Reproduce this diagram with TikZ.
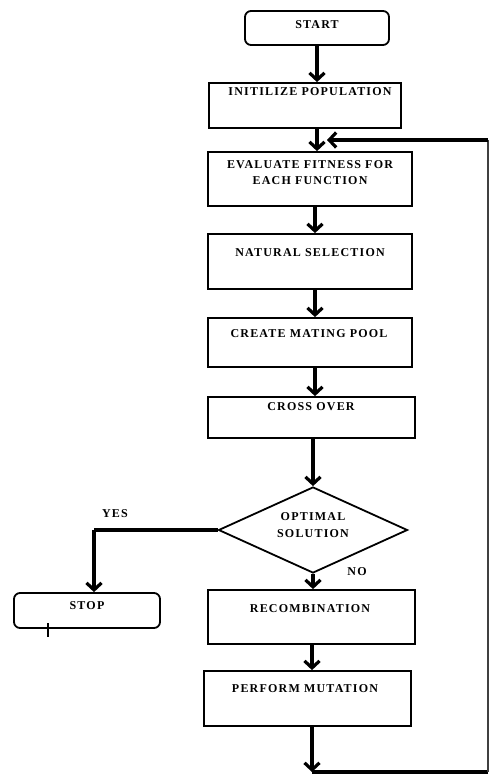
\documentclass[tikz,border=0pt]{standalone}
\usepackage{fontspec}
\setmainfont{Liberation Serif}
\usetikzlibrary{shapes.geometric,arrows.meta}
\begin{document}
\begin{tikzpicture}[x=1pt,y=-1pt,
  box/.style={draw, line width=1.8pt, rectangle, inner sep=0pt},
  rbox/.style={box, rounded corners=6pt},
  txt/.style={font=\fontsize{12}{14}\selectfont\bfseries\addfontfeatures{LetterSpace=10}, inner sep=0pt, anchor=center},
  arr/.style={line width=3.2pt, -{Straight Barb[length=7pt,width=15pt]}},
  thickline/.style={line width=3.2pt},
  thinline/.style={line width=1.2pt, black!75}]
\useasboundingbox (0,0) rectangle (489,778);
\fill[white] (0,0) rectangle (489,778);
% boxes
\node[rbox, minimum width=144pt, minimum height=34pt] (start) at (317,28) {};
\node[box, minimum width=192pt, minimum height=45pt] (init) at (305,105.5) {};
\node[box, minimum width=204pt, minimum height=54pt] (eval) at (310,179) {};
\node[box, minimum width=204pt, minimum height=55pt] (nat) at (310,261.5) {};
\node[box, minimum width=204pt, minimum height=49pt] (create) at (310,342.5) {};
\node[box, minimum width=207pt, minimum height=41pt] (cross) at (311.5,417.5) {};
\node[draw, diamond, line width=1.8pt, inner sep=0pt, minimum width=189pt, minimum height=86pt] (dec) at (313,530) {};
\node[rbox, minimum width=146pt, minimum height=35pt] (stop) at (87,610.5) {};
\node[box, minimum width=207pt, minimum height=54pt] (recomb) at (311.5,617) {};
\node[box, minimum width=207pt, minimum height=55pt] (mut) at (307.5,698.5) {};
% texts
\node[txt] (tstart) at (317,25) {START};
\node[txt] (tinit) at (310,92) {INITILIZE POPULATION};
\node[txt] (teval1) at (310,165) {EVALUATE FITNESS FOR};
\node[txt] (teval2) at (310,181) {EACH FUNCTION};
\node[txt] (tnat) at (310,253) {NATURAL SELECTION};
\node[txt] (tcreate) at (309,334) {CREATE MATING POOL};
\node[txt] (tcross) at (311,407) {CROSS OVER};
\node[txt] (tdec1) at (313,517) {OPTIMAL};
\node[txt] (tdec2) at (313,534) {SOLUTION};
\node[txt] (tyes) at (115,514) {YES};
\node[txt] (tno) at (357,572) {NO};
\node[txt] (tstop) at (87,606) {STOP};
\node[txt] (trecomb) at (310,609) {RECOMBINATION};
\node[txt] (tmut) at (305,689) {PERFORM MUTATION};
% coordinates
\coordinate (c1) at (317,0);
\coordinate (c2) at (315,0);
\coordinate (c3) at (313,0);
\coordinate (c4) at (312,0);
\coordinate (yescorner) at (94,530);
\coordinate (bl) at (312,772);
\coordinate (br) at (488,772);
\coordinate (tr) at (488,140);
\coordinate (loopend) at (327,140);
\coordinate (tick1) at (48,623);
\coordinate (tick2) at (48,637);
% connectors
\draw[arr] (c1 |- start.south) -- (c1 |- init.north);
\draw[arr] (c1 |- init.south) -- (c1 |- eval.north);
\draw[arr] (c2 |- eval.south) -- (c2 |- nat.north);
\draw[arr] (c2 |- nat.south) -- (c2 |- create.north);
\draw[arr] (c2 |- create.south) -- (c2 |- cross.north);
\draw[arr] (c3 |- cross.south) -- (dec.north);
\draw[arr] (dec.south) -- (dec.south |- recomb.north);
\draw[arr] (c4 |- recomb.south) -- (c4 |- mut.north);
\draw[thickline] (dec.west) -- (yescorner);
\draw[arr] (yescorner) -- (yescorner |- stop.north);
\draw[arr] (c4 |- mut.south) -- (bl);
\draw[thickline] (bl) -- (br);
\draw[thinline] (br) -- (tr);
\draw[arr] (tr) -- (loopend);
\draw[line width=2.6pt] (tick1) -- (tick2);
\end{tikzpicture}
\end{document}
